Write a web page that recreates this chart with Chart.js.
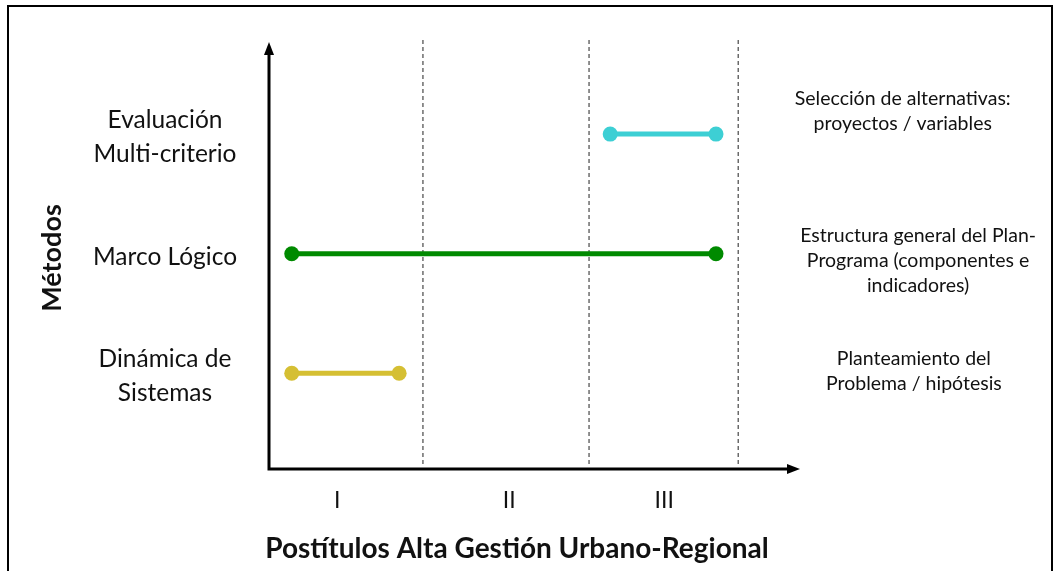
<!DOCTYPE html>
<html>
<head>
<meta charset="utf-8">
<script src="https://cdn.jsdelivr.net/npm/chart.js@4"></script>
<style>
  html, body { margin: 0; padding: 0; background: #fff; }
  #wrap { width: 1059px; height: 571px; position: relative; }
</style>
</head>
<body>
<div id="wrap"><canvas id="chart"></canvas></div>
<script>
// Métodos (de abajo hacia arriba)
const methodLabels = [['Dinámica de', 'Sistemas'], ['Marco Lógico'], ['Evaluación', 'Multi-criterio']];
const methodLevel = [1, 2, 3];
const methodColors = ['#d5bf33', '#008a00', '#3dcfd4'];
// inicio / fin de cada método sobre el eje de postítulos (unidades 0-100)
const startPos = [4.3, 4.3, 64.5];
const endPos = [24.6, 84.5, 84.5];

// Postítulos
const phaseLabels = ['I', 'II', 'III'];
const phaseCenters = [12.9, 45.4, 74.7];
const phaseBounds = [29.1, 60.5, 88.7];

// Notas a la derecha
const notes = [
    ['Planteamiento del', 'Problema / hipótesis'],
    ['Estructura general del Plan-', 'Programa (componentes e', 'indicadores)'],
    ['Selección de alternativas:', 'proyectos / variables']
];
const noteLevel = [1.03, 1.95, 3.2];
const noteCenter = [121.9, 122.7, 119.8];

const FONT = 'Lato, "Open Sans", sans-serif';

const datasets = methodLevel.map((lvl, i) => ({
    label: methodLabels[i].join(' '),
    data: [{ x: startPos[i], y: lvl }, { x: endPos[i], y: lvl }],
    borderColor: methodColors[i],
    backgroundColor: methodColors[i],
    borderWidth: 5,
    pointRadius: 7.5,
    pointBorderWidth: 0,
    showLine: true
}));

// dibuja marco, ejes con flecha, líneas punteadas y textos
const decor = {
    id: 'decor',
    beforeDatasetsDraw(chart) {
        const ctx = chart.ctx;
        const xs = chart.scales.x;
        const a = chart.chartArea;
        ctx.save();
        // marco
        ctx.strokeStyle = '#000';
        ctx.lineWidth = 2;
        ctx.beginPath();
        ctx.moveTo(8, 571); ctx.lineTo(8, 6); ctx.lineTo(1052, 6); ctx.lineTo(1052, 571);
        ctx.stroke();

        // divisiones de postítulos
        ctx.strokeStyle = '#555';
        ctx.lineWidth = 1.3;
        ctx.setLineDash([4, 3]);
        phaseBounds.forEach(b => {
            const px = xs.getPixelForValue(b);
            ctx.beginPath();
            ctx.moveTo(px, a.top - 5);
            ctx.lineTo(px, a.bottom - 4);
            ctx.stroke();
        });
        ctx.setLineDash([]);

        // ejes
        ctx.strokeStyle = '#000';
        ctx.fillStyle = '#000';
        ctx.lineWidth = 3;
        ctx.beginPath();
        ctx.moveTo(a.left, a.top + 8);
        ctx.lineTo(a.left, a.bottom);
        ctx.lineTo(a.right - 8, a.bottom);
        ctx.stroke();
        ctx.beginPath();
        ctx.moveTo(a.left, a.top - 3);
        ctx.lineTo(a.left - 5, a.top + 10);
        ctx.lineTo(a.left + 5, a.top + 10);
        ctx.closePath();
        ctx.fill();
        ctx.beginPath();
        ctx.moveTo(a.right + 2, a.bottom);
        ctx.lineTo(a.right - 11, a.bottom - 5);
        ctx.lineTo(a.right - 11, a.bottom + 5);
        ctx.closePath();
        ctx.fill();
        ctx.restore();
    },
    afterDraw(chart) {
        const ctx = chart.ctx;
        const xs = chart.scales.x, ys = chart.scales.y;
        const a = chart.chartArea;
        ctx.save();
        ctx.fillStyle = '#111';
        ctx.textAlign = 'center';
        ctx.textBaseline = 'middle';

        // nombres de métodos
        ctx.font = '24.5px ' + FONT;
        methodLevel.forEach((lvl, i) => {
            const lines = methodLabels[i];
            const cy = ys.getPixelForValue(lvl) + 3;
            lines.forEach((t, k) => {
                ctx.fillText(t, 165, cy + (k - (lines.length - 1) / 2) * 34);
            });
        });

        // notas
        ctx.font = '19.5px ' + FONT;
        notes.forEach((lines, i) => {
            const cy = ys.getPixelForValue(noteLevel[i]) + 1;
            const cx = xs.getPixelForValue(noteCenter[i]);
            lines.forEach((t, k) => {
                ctx.fillText(t, cx, cy + (k - (lines.length - 1) / 2) * 25);
            });
        });

        // postítulos
        ctx.font = '23px ' + FONT;
        phaseLabels.forEach((t, i) => {
            ctx.fillText(t, xs.getPixelForValue(phaseCenters[i]), a.bottom + 32);
        });

        // títulos de ejes
        ctx.font = 'bold 28px ' + FONT;
        ctx.fillText('Postítulos Alta Gestión Urbano-Regional', 517, a.bottom + 80);
        ctx.translate(52, 258);
        ctx.rotate(-Math.PI / 2);
        ctx.font = 'bold 27px ' + FONT;
        ctx.fillText('Métodos', 0, 0);
        ctx.restore();
    }
};

new Chart(document.getElementById('chart'), {
    type: 'scatter',
    data: { datasets: datasets },
    options: {
        responsive: true,
        maintainAspectRatio: false,
        animation: false,
        layout: { padding: { left: 269, right: 261, top: 45, bottom: 102 } },
        scales: {
            x: { type: 'linear', min: 0, max: 100, display: false },
            y: { type: 'linear', min: 0.2, max: 3.745, display: false }
        },
        plugins: { legend: { display: false }, tooltip: { enabled: false } }
    },
    plugins: [decor]
});
</script>
</body>
</html>
